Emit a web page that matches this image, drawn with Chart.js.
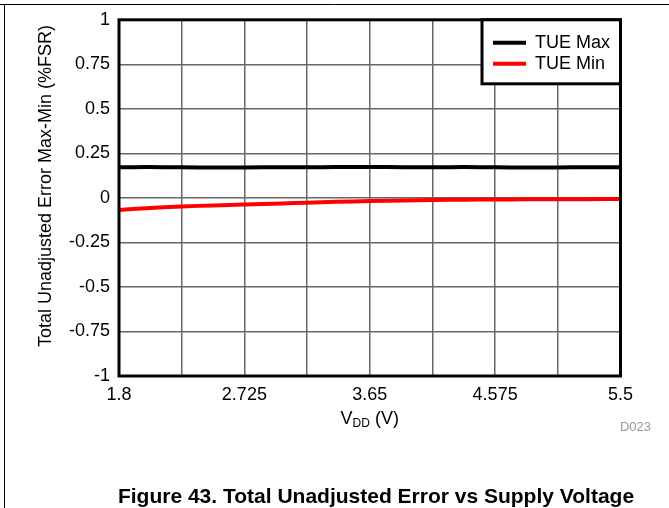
<!DOCTYPE html>
<html lang="en">
<head>
<meta charset="UTF-8">
<title>Total Unadjusted Error vs Supply Voltage</title>
<script src="https://cdn.jsdelivr.net/npm/chart.js@4.4.1/dist/chart.umd.min.js"></script>
<style>
  html, body { margin: 0; padding: 0; background: #fff; }
  canvas { display: block; }
</style>
</head>
<body>
<canvas id="graficoTue" width="669" height="508"></canvas>
<script>
// Dados: tensão de alimentação (V) e erro total (%FSR)
const tensoes = [1.8, 2.0, 2.2625, 2.5, 2.725, 3.0, 3.1875, 3.4, 3.65, 3.9, 4.1125, 4.35, 4.575, 4.8, 5.0375, 5.25, 5.5];
const tueMax = [0.172, 0.173, 0.172, 0.170, 0.171, 0.172, 0.172, 0.173, 0.174, 0.172, 0.172, 0.173, 0.172, 0.170, 0.171, 0.172, 0.172];
const tueMin = [-0.068, -0.058, -0.048, -0.042, -0.037, -0.031, -0.027, -0.022, -0.018, -0.014, -0.012, -0.010, -0.009, -0.008, -0.007, -0.007, -0.006];

// Marcas dos eixos
const xTicks = [1.8, 2.2625, 2.725, 3.1875, 3.65, 4.1125, 4.575, 5.0375, 5.5];
const xTickLabels = ['1.8', '', '2.725', '', '3.65', '', '4.575', '', '5.5'];
const yTicks = [-1, -0.75, -0.5, -0.25, 0, 0.25, 0.5, 0.75, 1];
const yTickLabels = ['-1', '-0.75', '-0.5', '-0.25', '0', '0.25', '0.5', '0.75', '1'];

const fonte = 'Arial, "Liberation Sans", sans-serif';

// Moldura, borda do gráfico e legenda dentro da área
const extras = {
  id: 'extras',
  beforeDraw(chart) {
    const ctx = chart.ctx;
    ctx.save();
    ctx.fillStyle = '#fff';
    ctx.fillRect(0, 0, chart.width, chart.height);
    ctx.restore();
  },
  afterDatasetsDraw(chart) {
    const { ctx, chartArea: a } = chart;
    ctx.save();
    ctx.strokeStyle = '#000';
    ctx.lineWidth = 3;
    ctx.strokeRect(a.left, a.top, a.right - a.left, a.bottom - a.top);

    // legenda
    const lx = 482, ly = a.top, lw = a.right - lx, lh = 64;
    ctx.fillStyle = '#fff';
    ctx.fillRect(lx, ly, lw, lh);
    ctx.strokeRect(lx, ly, lw, lh);
    ctx.font = '18px ' + fonte;
    ctx.textAlign = 'left';
    ctx.textBaseline = 'middle';
    chart.data.datasets.forEach((ds, i) => {
      const y = ly + 23 + i * 21;
      ctx.strokeStyle = ds.borderColor;
      ctx.lineWidth = 4;
      ctx.beginPath();
      ctx.moveTo(lx + 11, y);
      ctx.lineTo(lx + 44, y);
      ctx.stroke();
      ctx.fillStyle = '#000';
      ctx.fillText(ds.label, lx + 53, y);
    });
    ctx.restore();
  },
  afterDraw(chart) {
    const { ctx, chartArea: a } = chart;
    ctx.save();
    // moldura da figura
    ctx.strokeStyle = '#000';
    ctx.lineWidth = 1;
    ctx.beginPath();
    ctx.moveTo(0, 4.5);
    ctx.lineTo(chart.width, 4.5);
    ctx.moveTo(4.5, 4.5);
    ctx.lineTo(4.5, chart.height);
    ctx.stroke();

    ctx.fillStyle = '#000';
    // título do eixo y
    ctx.save();
    ctx.translate(46, 186);
    ctx.rotate(-Math.PI / 2);
    ctx.font = '18px ' + fonte;
    ctx.textAlign = 'center';
    ctx.textBaseline = 'middle';
    ctx.fillText('Total Unadjusted Error Max-Min (%FSR)', 0, 0);
    ctx.restore();

    // título do eixo x com subscrito
    const cx = (a.left + a.right) / 2;
    ctx.textBaseline = 'alphabetic';
    ctx.textAlign = 'left';
    ctx.font = '18px ' + fonte;
    const wV = ctx.measureText('V').width;
    const wResto = ctx.measureText(' (V)').width;
    ctx.font = '12px ' + fonte;
    const wSub = ctx.measureText('DD').width;
    let x = cx - (wV + wSub + wResto) / 2;
    ctx.font = '18px ' + fonte;
    ctx.fillText('V', x, 424);
    x += wV;
    ctx.font = '12px ' + fonte;
    ctx.fillText('DD', x, 427);
    x += wSub;
    ctx.font = '18px ' + fonte;
    ctx.fillText(' (V)', x, 424);

    // código da figura
    ctx.font = '13px ' + fonte;
    ctx.fillStyle = '#999';
    ctx.textAlign = 'right';
    ctx.fillText('D023', 651, 431);

    // legenda da figura
    ctx.font = 'bold 21px ' + fonte;
    ctx.fillStyle = '#000';
    ctx.textAlign = 'center';
    ctx.fillText('Figure 43. Total Unadjusted Error vs Supply Voltage', 376, 503);
    ctx.restore();
  }
};

const ctx = document.getElementById('graficoTue').getContext('2d');

const graficoTue = new Chart(ctx, {
  type: 'line',
  data: {
    labels: tensoes,
    datasets: [
      {
        label: 'TUE Max',
        data: tensoes.map((v, i) => ({ x: v, y: tueMax[i] })),
        borderColor: '#000',
        borderWidth: 4,
        pointRadius: 0,
        tension: 0.3
      },
      {
        label: 'TUE Min',
        data: tensoes.map((v, i) => ({ x: v, y: tueMin[i] })),
        borderColor: '#ff0000',
        borderWidth: 4,
        pointRadius: 0,
        tension: 0.3
      }
    ]
  },
  options: {
    responsive: false,
    animation: false,
    layout: { padding: { top: 18, right: 48.5, left: 0, bottom: 0 } },
    plugins: {
      legend: { display: false },
      tooltip: { enabled: false }
    },
    scales: {
      x: {
        type: 'linear',
        min: 1.8,
        max: 5.5,
        afterBuildTicks: (s) => { s.ticks = xTicks.map((v) => ({ value: v })); },
        afterFit: (s) => { s.height = 132; },
        ticks: {
          callback: (v, i) => xTickLabels[i],
          color: '#000',
          font: { family: fonte, size: 18 },
          padding: 8,
          autoSkip: false,
          maxRotation: 0
        },
        grid: { color: '#666', lineWidth: 1.5, drawTicks: false },
        border: { display: false }
      },
      y: {
        min: -1,
        max: 1,
        afterBuildTicks: (s) => { s.ticks = yTicks.map((v) => ({ value: v })); },
        afterFit: (s) => { s.width = 119; },
        ticks: {
          callback: (v, i) => yTickLabels[i],
          color: '#000',
          font: { family: fonte, size: 18 },
          padding: 9,
          autoSkip: false
        },
        grid: { color: '#666', lineWidth: 1.5, drawTicks: false },
        border: { display: false }
      }
    }
  },
  plugins: [extras]
});
</script>
</body>
</html>
